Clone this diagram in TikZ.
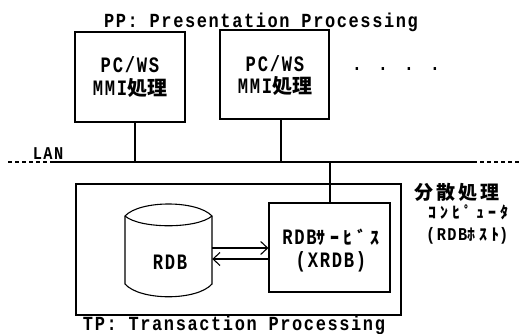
\documentclass[tikz,border=0pt]{standalone}
\usepackage{fontspec}
\usetikzlibrary{arrows.meta}
\newfontfamily\monof[FakeStretch=0.85,LetterSpace=8]{Liberation Mono}
\newfontfamily\narrowf[FakeStretch=0.78,LetterSpace=8]{Liberation Mono}
\newfontfamily\jpf{Noto Sans CJK JP}
\newfontfamily\jpkana[LetterSpace=25]{Noto Sans CJK JP}
\begin{document}
\begin{tikzpicture}[x=1pt,y=-1pt,
  box/.style={draw,line width=1.1pt,inner sep=0pt},
  mono/.style={font=\monof\bfseries\fontsize{20}{22}\selectfont,inner sep=0pt},
  monobig/.style={font=\narrowf\bfseries\fontsize{22}{22}\selectfont,inner sep=0pt},
  link/.style={line width=1.1pt},
  lan/.style={line width=2pt},
  flow/.style={line width=1.1pt,-{Straight Barb[length=7pt,width=13pt,line width=1.1pt]}}]
\useasboundingbox (0,0) rectangle (523,333);

% presentation side
\node[mono,anchor=base] (pp) at (261,27) {PP: Presentation Processing};
\node[box,minimum width=110pt,minimum height=90pt] (pc1) at (130,77) {};
\node[box,minimum width=109pt,minimum height=89pt] (pc2) at (274.5,74.5) {};
\node[monobig,anchor=base] (pc1a) at (130,72) {PC/WS};
\node[monobig,anchor=base] (pc1b) at (130,95) {MMI{\jpf\bfseries\fontsize{20}{22}\selectfont 処理}};
\node[monobig,anchor=base] (pc2a) at (275,71) {PC/WS};
\node[monobig,anchor=base] (pc2b) at (275,93) {MMI{\jpf\bfseries\fontsize{20}{22}\selectfont 処理}};
\node[mono,anchor=base] (more) at (396,70) {. . . .};

% LAN backbone
\coordinate (lanL) at (52,162);
\coordinate (lanR) at (473,162);
\coordinate (lanLend) at (8,162);
\coordinate (lanRend) at (521,162);
\draw[lan] (lanL) -- (lanR);
\draw[lan,dash pattern=on 4pt off 3pt] (lanLend) -- (lanL);
\draw[lan,dash pattern=on 4pt off 3pt] (lanR) -- (lanRend);
\node[font=\monof\bfseries\fontsize{18}{18}\selectfont,inner sep=0pt,anchor=base] (lanlbl) at (48,159) {LAN};
\coordinate (t1) at (135,162);
\coordinate (t2) at (281,162);
\coordinate (t3) at (330,162);
\draw[link] (pc1.south -| t1) -- (t1);
\draw[link] (pc2.south -| t2) -- (t2);

% transaction side
\node[box,minimum width=325pt,minimum height=131pt] (tp) at (238.5,249.5) {};
\node[mono,anchor=base] (tplbl) at (234,330) {TP: Transaction Processing};

% database cylinder
\node[minimum width=87pt,minimum height=68pt,inner sep=0pt] (rdb) at (168.5,250) {};
\draw[link] (125,216) .. controls (140,200) and (197,200) .. (212,216)
  -- (212,284) .. controls (197,301) and (140,301) .. (125,284) -- cycle;
\draw[link] (125,216) .. controls (140,229) and (197,229) .. (212,216);
\node[monobig,anchor=base] (rdbt) at (170,269) {RDB};

% database service
\node[box,minimum width=121pt,minimum height=89pt] (svc) at (329.5,247.5) {};
\node[monobig,anchor=base] (svca) at (331,244) {RDB{\jpkana\bfseries\fontsize{18}{22}\selectfont ｻｰﾋﾞｽ}};
\node[monobig,anchor=base] (svcb) at (331,267) {(XRDB)};
\draw[link] (t3) -- (svc.north -| t3);

\draw[flow] (rdb.east |- 0,248) -- (svc.west |- 0,248);
\draw[flow] (svc.west |- 0,259) -- (rdb.east |- 0,259);

% host description
\node[font=\jpf\bfseries\fontsize{19}{20}\selectfont,inner sep=0pt,anchor=base west] (h1) at (414,199) {分\,散\,処\,理};
\node[font=\jpkana\bfseries\fontsize{16}{18}\selectfont,inner sep=0pt,anchor=base west] (h2) at (428,218) {ｺﾝﾋﾟｭｰﾀ};
\node[font=\monof\bfseries\fontsize{18}{20}\selectfont,inner sep=0pt,anchor=base west] (h3) at (426,240) {(RDB{\jpkana\fontsize{16}{18}\selectfont ﾎｽﾄ})};
\end{tikzpicture}
\end{document}
